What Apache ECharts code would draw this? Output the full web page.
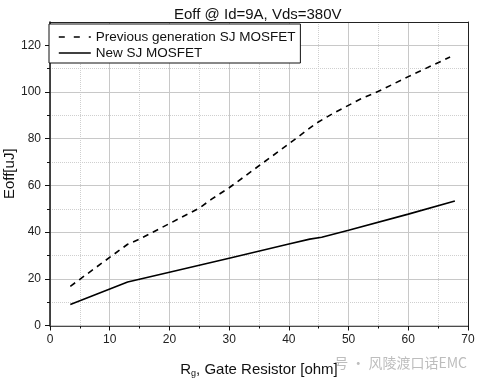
<!DOCTYPE html>
<html>
<head>
<meta charset="utf-8">
<script src="https://cdn.jsdelivr.net/npm/echarts@6/dist/echarts.min.js"></script>
<style>html,body{margin:0;padding:0;background:#fff}#c{width:481px;height:385px}</style>
</head>
<body>
<div id="c"></div>
<script>
// Data
const xPrev = [3.4, 13, 15, 25, 27, 30, 40, 44.5, 47.5, 52, 55, 60, 67];
const yPrev = [16.8, 34.8, 37, 50.3, 54, 59, 77.8, 86.5, 91, 97, 100.3, 106.6, 115];
const xNew = [3.4, 13, 20, 30, 40, 43.5, 45.5, 50, 60, 67.8];
const yNew = [9.0, 18.6, 22.8, 28.8, 34.9, 37, 37.8, 40.8, 47.7, 53.3];
const yMajorTicks = [0, 20, 40, 60, 80, 100, 120];
const yMinorTicks = [10, 30, 50, 70, 90, 110];
const seriesNames = ['Previous generation SJ MOSFET', 'New SJ MOSFET'];

const FONT = 'Liberation Sans, Arial, sans-serif';
const chart = echarts.init(document.getElementById('c'), null, {renderer: 'canvas'});
chart.setOption({
  backgroundColor: '#fff',
  animation: false,
  textStyle: {fontFamily: FONT},
  title: {
    text: 'Eoff @ Id=9A, Vds=380V',
    left: 169, top: 2,
    textStyle: {fontSize: 15, fontWeight: 'normal', color: '#111', fontFamily: FONT}
  },
  grid: {left: 50, right: 13, top: 22, bottom: 59.5, containLabel: false, outerBoundsMode: 'none'},
  legend: {
    orient: 'vertical', left: 49, top: 24,
    itemWidth: 32, itemHeight: 10, itemGap: 2,
    padding: [6, 5, 3, 9],
    borderColor: '#111', borderWidth: 1, backgroundColor: '#fff',
    itemStyle: {opacity: 0},
    textStyle: {fontSize: 13.5, color: '#111', fontFamily: FONT},
    data: [
      {name: seriesNames[0], lineStyle: {color: '#000', width: 1.6, type: [6, 9]}},
      {name: seriesNames[1], lineStyle: {color: '#000', width: 1.6, type: 'solid'}}
    ],
    z: 10
  },
  xAxis: [{
    type: 'value', min: 0, max: 70, interval: 10,
    name: '{a|R}{b|g}{a|, Gate Resistor [ohm]}',
    nameLocation: 'middle', nameGap: 35,
    nameTextStyle: {rich: {
      a: {fontSize: 15, color: '#111', fontFamily: FONT},
      b: {fontSize: 9, color: '#111', fontFamily: FONT, verticalAlign: 'bottom', padding: [9, 0, 0, 0]}
    }},
    axisLine: {show: true, onZero: false, lineStyle: {color: '#111', width: 1.5}},
    axisTick: {show: true, inside: false, length: 5, lineStyle: {color: '#111'}},
    minorTick: {show: true, splitNumber: 2, length: 3, lineStyle: {color: '#111'}},
    axisLabel: {fontSize: 12, color: '#222', margin: 8, fontFamily: FONT},
    splitLine: {show: true, lineStyle: {color: '#c8c8c8', width: 1}},
    minorSplitLine: {show: true, lineStyle: {color: '#cfcfcf', width: 1, type: [1, 1]}}
  }, {
    type: 'value', min: 0, max: 70, position: 'top',
    axisLine: {show: true, onZero: false, lineStyle: {color: '#222', width: 1}},
    axisTick: {show: false}, axisLabel: {show: false}, splitLine: {show: false}
  }],
  yAxis: [{
    type: 'value', min: 0, max: 130, interval: 20, position: 'left',
    name: 'Eoff[uJ]', nameLocation: 'middle', nameGap: 33, nameMoveOverlap: false,
    nameTextStyle: {fontSize: 15, color: '#111', fontFamily: FONT},
    axisLine: {show: true, onZero: false, lineStyle: {color: '#111', width: 1.5}},
    axisTick: {show: true, inside: false, length: 5, lineStyle: {color: '#111'}, customValues: yMajorTicks},
    axisLabel: {fontSize: 12, color: '#222', margin: 9, fontFamily: FONT, customValues: yMajorTicks},
    splitLine: {show: true, lineStyle: {color: '#c8c8c8', width: 1}},
    z: 2
  }, {
    type: 'value', min: 0, max: 130, interval: 10, position: 'left', offset: 0,
    axisLine: {show: false},
    axisTick: {show: true, inside: false, length: 3, lineStyle: {color: '#111'}, customValues: yMinorTicks},
    axisLabel: {show: false},
    splitLine: {show: true, lineStyle: {color: '#cfcfcf', width: 1, type: [1, 1]}},
    z: 1
  }, {
    type: 'value', min: 0, max: 130, position: 'right', offset: 0,
    axisLine: {show: true, onZero: false, lineStyle: {color: '#222', width: 1}},
    axisTick: {show: false}, axisLabel: {show: false}, splitLine: {show: false}
  }],
  graphic: [{
    type: 'text', right: 14, top: 356, z: 0,
    style: {text: '号 · 风陵渡口话EMC', fontSize: 14, fill: '#bdbdbd', fontFamily: 'Noto Sans CJK SC, sans-serif'}
  }],
  series: [{
    name: seriesNames[0], type: 'line', xAxisIndex: 0, yAxisIndex: 0, symbol: 'none',
    data: xPrev.map((x, i) => [x, yPrev[i]]),
    lineStyle: {color: '#000', width: 1.6, type: [6, 5]},
    itemStyle: {color: '#000'}, z: 5
  }, {
    name: seriesNames[1], type: 'line', xAxisIndex: 0, yAxisIndex: 0, symbol: 'none',
    data: xNew.map((x, i) => [x, yNew[i]]),
    lineStyle: {color: '#000', width: 1.6},
    itemStyle: {color: '#000'}, z: 5
  }]
});
</script>
</body>
</html>
